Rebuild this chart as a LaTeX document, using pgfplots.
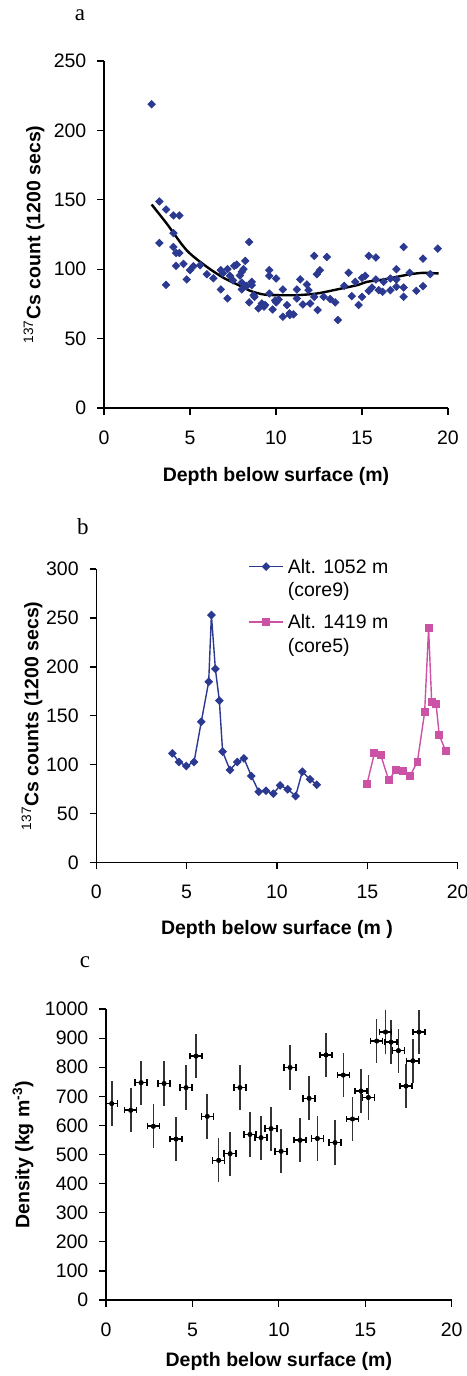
\documentclass[border=0pt]{standalone}
\usepackage{fontspec}
\setmainfont{Liberation Sans}
\newfontfamily\serifletter{Liberation Serif}
\usepackage{pgfplots}
\usepackage{pgfplotstable}
\pgfplotsset{compat=1.18}
\definecolor{navy}{RGB}{43,57,144}
\definecolor{pinkm}{RGB}{204,82,166}
\newcommand{\fs}{\fontsize{9.75}{11.7}\selectfont}
\pgfplotsset{
  myaxis/.style={
    scale only axis,
    axis x line*=bottom, axis y line*=left,
    axis line style={-, black, line width=0.6pt},
    tick align=outside,
    major tick length=3.3pt,
    tick style={black, line width=0.6pt},
    xmin=0, xmax=20, xtick={0,5,...,20},
    enlargelimits=false,
    /pgf/number format/assume math mode=true,
    /pgf/number format/1000 sep={},
    font=\fs,
    ticklabel style={font=\fs},
    xticklabel style={yshift=-4.5pt},
    yticklabel style={xshift=-2pt},
    title style={font=\fontsize{11.5}{13}\selectfont\serifletter, anchor=center, yshift=-6pt},
    xlabel style={anchor=center, font=\fs\bfseries},
    ylabel style={anchor=center, font=\fs},
  }
}
\pgfplotstableread{
x y ex ey
0.33 675 0.35 76
1.43 652 0.35 76
2.03 747 0.35 76
2.74 597 0.35 76
3.36 744 0.35 76
4.05 553 0.35 76
4.63 730 0.35 76
5.21 838 0.35 76
5.86 631 0.35 76
6.52 480 0.35 76
7.18 503 0.35 76
7.75 730 0.35 76
8.33 569 0.35 76
8.97 558 0.35 76
9.55 589 0.35 76
10.13 511 0.35 76
10.65 799 0.35 76
11.23 549 0.35 76
11.75 693 0.35 76
12.23 555 0.35 76
12.73 842 0.35 76
13.25 541 0.35 76
13.73 773 0.35 76
14.26 622 0.35 76
14.76 718 0.35 76
15.18 696 0.35 76
15.66 890 0.35 76
16.17 921 0.35 76
16.49 886 0.35 76
16.92 857 0.35 76
17.36 735 0.35 76
17.75 822 0.35 76
18.11 921 0.35 76
}\densitytable
\begin{document}
\begin{tikzpicture}
\useasboundingbox (0,0) rectangle (233pt,-688pt);
% ---------------- panel a
\begin{axis}[myaxis,
  at={(52pt,-204pt)}, anchor=south west,
  width=172pt, height=173.5pt,
  ymin=0, ymax=250, ytick={0,50,...,250},
  title={a}, title style={at={(axis description cs:-0.07,1.133)}},
  xlabel={Depth below surface (m)},
  xlabel style={at={(axis description cs:0.5,-0.197)}},
  ylabel={\textsuperscript{137}\textbf{Cs count (1200 secs)}},
  ylabel style={at={(axis description cs:-0.2035,0.5)}},
]
\addplot[only marks, mark=square*, mark size=1.3pt, mark options={rotate=45, fill=navy, draw=navy}, navy] coordinates {
(2.77,218.9)(3.22,148.8)(3.61,143.0)(4.04,138.7)(4.38,138.7)(4.04,126.0)(3.22,118.9)(3.61,88.7)(4.04,116.0)(4.19,111.7)(4.38,111.7)(4.19,102.4)(4.62,103.8)(4.81,92.6)(5.00,99.3)(5.20,102.1)(5.59,102.9)(5.98,96.4)(6.36,93.5)(6.79,99.3)(6.79,85.4)(7.18,100.0)(7.18,78.9)(7.33,95.2)(7.57,102.4)(7.72,103.3)(8.01,98.1)(8.11,100.0)(8.21,106.0)(8.44,119.6)(8.01,90.4)(8.01,85.4)(8.44,76.1)(8.59,90.9)(8.59,88.5)(8.75,80.1)(8.98,71.8)(9.18,75.3)(9.37,74.2)(9.61,99.3)(9.61,95.2)(9.61,82.5)(9.80,71.0)(10.01,93.3)(10.01,76.1)(10.15,78.2)(10.40,85.4)(10.40,65.8)(10.64,74.2)(10.79,68.2)(11.02,67.5)(11.21,85.4)(11.21,78.9)(11.41,92.6)(11.56,74.6)(11.80,89.0)(11.89,84.9)(11.99,75.3)(12.22,109.6)(12.22,80.1)(12.38,96.4)(12.42,70.6)(12.55,99.3)(12.77,80.1)(12.96,108.8)(13.15,78.5)(13.44,76.1)(13.60,63.4)(13.97,88.0)(14.22,97.4)(14.41,80.6)(14.61,90.9)(14.80,74.2)(15.00,80.1)(15.00,93.8)(15.19,95.2)(15.39,109.6)(15.39,84.4)(15.58,86.8)(15.81,108.4)(15.81,92.6)(15.97,84.9)(16.20,83.7)(16.26,90.9)(16.65,84.9)(16.65,93.3)(17.00,100.0)(17.00,87.3)(17.00,92.6)(17.42,116.0)(17.42,86.8)(17.42,80.1)(17.77,97.4)(18.16,84.4)(18.55,107.6)(18.55,87.8)(18.97,96.4)(19.40,114.8)
(7.50,92.0)(8.30,88.0)(8.70,81.3)(9.30,73.0)(9.95,77.5)(10.80,67.0)(6.90,97.0)(7.90,95.5)
};
\addplot[black, line width=1.2pt, smooth, no marks] coordinates {
(2.77,146.6)(3.65,132.8)(4.81,113.6)(5.98,101.7)(6.95,93.8)(7.92,88.0)(8.50,84.4)(9.27,81.8)(10.05,81.3)(11.21,81.3)(12.38,82.5)(13.54,85.4)(14.71,88.5)(15.29,90.9)(16.26,92.6)(17.23,95.0)(17.81,96.4)(18.59,97.4)(19.46,96.9)
};
\end{axis}
% ---------------- panel b
\begin{axis}[myaxis,
  at={(48.15pt,-431.35pt)}, anchor=south west,
  width=180.7pt, height=146.85pt,
  ymin=0, ymax=300, ytick={0,50,...,300},
  title={b}, title style={at={(axis description cs:-0.037,1.143)}},
  xlabel={Depth below surface (m )},
  xlabel style={at={(axis description cs:0.5,-0.228)}},
  ylabel={\textsuperscript{137}\textbf{Cs counts (1200 secs)}},
  ylabel style={at={(axis description cs:-0.178,0.5)}},
  legend style={draw=none, fill=none, at={(axis description cs:0.403,1.07)}, anchor=north west, font=\fs, row sep=14pt},
  legend cell align=left,
]
\addplot[navy, line width=0.7pt, mark=square*, mark size=1.2pt, mark options={rotate=45, fill=navy, draw=navy}] coordinates {
(4.21,111.7)(4.58,102.9)(4.98,98.8)(5.41,102.9)(5.81,144.0)(6.22,184.9)(6.37,253.0)(6.59,197.9)(6.81,165.5)(6.99,113.4)(7.40,94.7)(7.80,102.9)(8.17,106.6)(8.58,88.6)(8.99,72.5)(9.39,73.6)(9.80,70.5)(10.17,79.0)(10.59,75.0)(11.03,68.1)(11.40,93.0)(11.83,85.2)(12.20,79.7)
};
\addlegendentry{\begin{tabular}[t]{@{}l@{}}Alt. 1052 m\\(core9)\end{tabular}}
\addplot[pinkm, line width=0.7pt, mark=square*, mark size=1.6pt, mark options={fill=pinkm, draw=pinkm}] coordinates {
(14.98,80.4)(15.39,111.7)(15.74,110.0)(16.18,84.5)(16.57,94.4)(16.99,93.7)(17.36,88.6)(17.77,103.2)(18.17,153.6)(18.39,239.4)(18.56,163.8)(18.80,162.4)(18.98,130.4)(19.34,113.8)
};
\addlegendentry{\begin{tabular}[t]{@{}l@{}}Alt. 1419 m\\(core5)\end{tabular}}
\end{axis}
% ---------------- panel c
\begin{axis}[myaxis,
  at={(53pt,-650pt)}, anchor=south west,
  width=172.85pt, height=145.5pt,
  ymin=0, ymax=1000, ytick={0,100,...,1000},
  title={c}, title style={at={(axis description cs:-0.061,1.16)}},
  xlabel={Depth below surface (m)},
  xlabel style={at={(axis description cs:0.5,-0.21)}},
  ylabel={\textbf{Density (kg m\textsuperscript{-3})}},
  ylabel style={at={(axis description cs:-0.24,0.5)}},
]
\addplot[black, only marks, mark=*, mark size=1pt,
  error bars/.cd, y dir=both, y explicit, error mark=none,
  error bar style={line width=0.8pt, black!80}]
  table[x=x, y=y, y error=ey] {\densitytable};
\addplot[black, only marks, mark=*, mark size=1pt,
  error bars/.cd, x dir=both, x explicit,
  error bar style={line width=0.8pt, black},
  error mark options={rotate=90, mark size=1.6pt, line width=0.7pt, black}]
  table[x=x, y=y, x error=ex] {\densitytable};
\end{axis}
\end{tikzpicture}
\end{document}
